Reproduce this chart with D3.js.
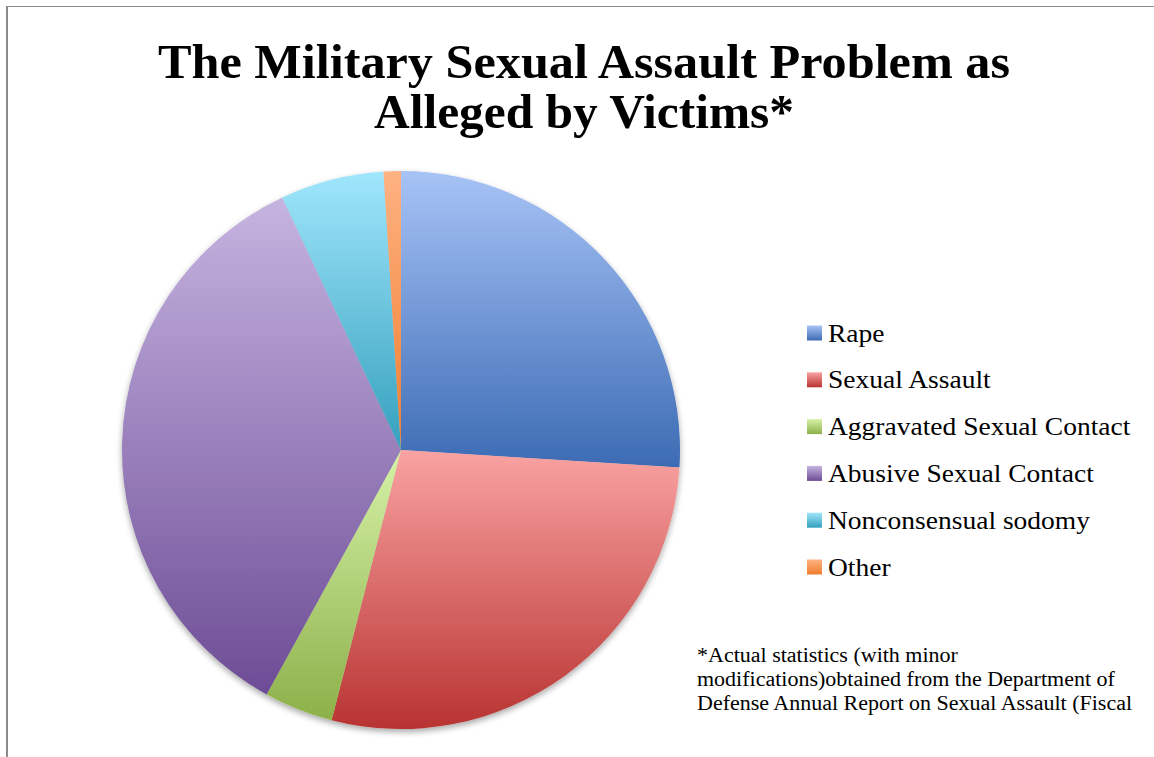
<!DOCTYPE html>
<html>
<head>
<meta charset="utf-8">
<script src="https://cdn.jsdelivr.net/npm/d3@7"></script>
<style>
  html, body { margin: 0; padding: 0; background: #fff; }
  svg { display: block; }
</style>
</head>
<body>
<svg width="1154" height="757"></svg>
<script>
const categories = ["Rape", "Sexual Assault", "Aggravated Sexual Contact", "Abusive Sexual Contact", "Nonconsensual sodomy", "Other"];
const values = [26, 28, 4, 35, 6, 1];
const lightColors = ["#a7c3f6", "#f9a3a2", "#d6f2a8", "#c6b4e0", "#a0e6fc", "#feb282"];
const darkColors = ["#3c6bb4", "#b83331", "#8db049", "#6d4c96", "#35a0bd", "#f07d2e"];
const titleLines = ["The Military Sexual Assault Problem as", "Alleged by Victims*"];
const noteLines = ["*Actual statistics (with minor", "modifications)obtained from the Department of", "Defense Annual Report on Sexual Assault (Fiscal"];

const svg = d3.select("svg");
const width = 1154;
const height = 757;
const cx = 401, cy = 450, radius = 279;
const serif = "'Liberation Serif', 'DejaVu Serif', serif";

// frame
svg.append("line").attr("x1", 7).attr("y1", 6).attr("x2", 7).attr("y2", height)
  .attr("stroke", "#8a8a8a").attr("stroke-width", 2);
svg.append("line").attr("x1", 6).attr("y1", 6.5).attr("x2", width).attr("y2", 6.5)
  .attr("stroke", "#8a8a8a").attr("stroke-width", 1);

const defs = svg.append("defs");
categories.forEach((c, i) => {
  const grad = defs.append("linearGradient")
    .attr("id", "g" + i)
    .attr("x1", 0).attr("y1", 0).attr("x2", 0).attr("y2", 1);
  grad.append("stop").attr("offset", "0%").attr("stop-color", lightColors[i]);
  grad.append("stop").attr("offset", "100%").attr("stop-color", darkColors[i]);
});

const shadow = defs.append("filter").attr("id", "shadow")
  .attr("x", "-10%").attr("y", "-10%").attr("width", "120%").attr("height", "120%");
shadow.append("feGaussianBlur").attr("in", "SourceAlpha").attr("stdDeviation", 3);
shadow.append("feOffset").attr("dx", 0).attr("dy", 3).attr("result", "ob");
shadow.append("feComponentTransfer").append("feFuncA").attr("type", "linear").attr("slope", 0.35);
const merge = shadow.append("feMerge");
merge.append("feMergeNode");
merge.append("feMergeNode").attr("in", "SourceGraphic");

// title
svg.append("g").selectAll("text")
  .data(titleLines)
  .enter()
  .append("text")
  .attr("x", 584)
  .attr("y", (d, i) => 78 + i * 50)
  .attr("text-anchor", "middle")
  .attr("font-family", serif)
  .attr("font-weight", "bold")
  .attr("font-size", 48)
  .attr("fill", "#000")
  .attr("textLength", (d, i) => i === 0 ? 852 : 420)
  .attr("lengthAdjust", "spacingAndGlyphs")
  .text(d => d);

// pie
const pie = d3.pie().sort(null).value(d => d);
const arc = d3.arc().innerRadius(0).outerRadius(radius);

const pieG = svg.append("g")
  .attr("transform", `translate(${cx}, ${cy})`)
  .attr("filter", "url(#shadow)");

pieG.selectAll("path")
  .data(pie(values))
  .enter()
  .append("path")
  .attr("d", arc)
  .attr("fill", (d, i) => `url(#g${i})`);

// widen text a bit to mimic Cambria's proportions
function stretch(sel, k) {
  sel.each(function () {
    const w = this.getComputedTextLength();
    d3.select(this).attr("textLength", w * k).attr("lengthAdjust", "spacingAndGlyphs");
  });
}

// legend
const legend = svg.append("g").attr("transform", "translate(807, 333)");
const item = legend.selectAll("g")
  .data(categories)
  .enter()
  .append("g")
  .attr("transform", (d, i) => `translate(0, ${i * 46.8})`);

item.append("rect")
  .attr("x", 0).attr("y", -7.5)
  .attr("width", 15).attr("height", 15)
  .attr("fill", (d, i) => `url(#g${i})`);

item.append("text")
  .attr("x", 21)
  .attr("y", 8.5)
  .attr("font-family", serif)
  .attr("font-size", 25)
  .attr("fill", "#000")
  .text(d => d)
  .call(stretch, 1.1);

// footnote
svg.append("g").selectAll("text")
  .data(noteLines)
  .enter()
  .append("text")
  .attr("x", 697)
  .attr("y", (d, i) => 662 + i * 24)
  .attr("font-family", serif)
  .attr("font-size", 20)
  .attr("fill", "#000")
  .text(d => d)
  .call(stretch, 1.1);
</script>
</body>
</html>
